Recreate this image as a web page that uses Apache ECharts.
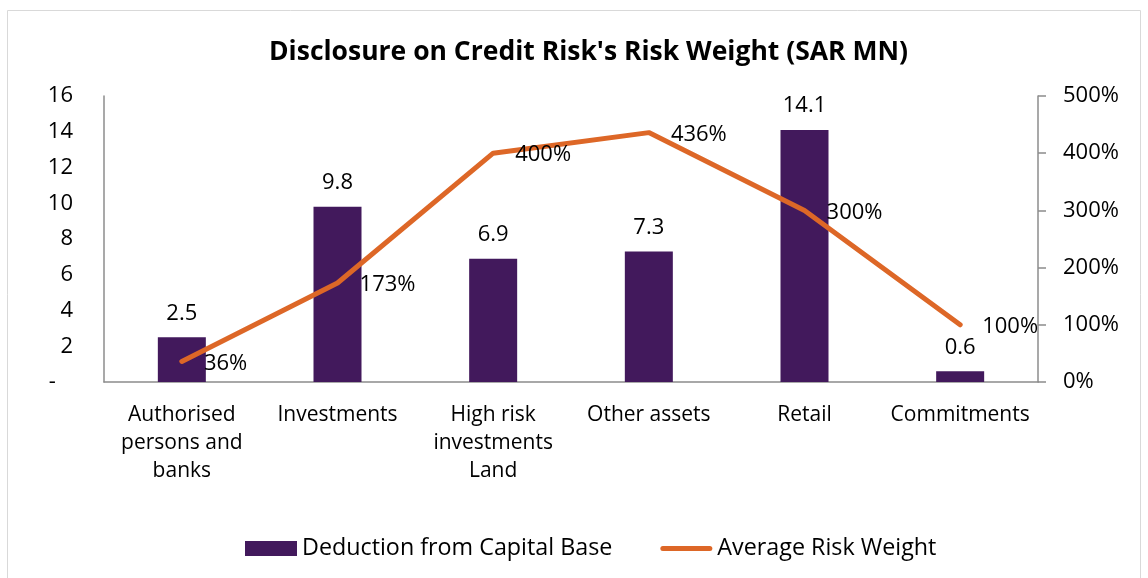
<!DOCTYPE html>
<html>
<head>
<meta charset="utf-8">
<script src="https://cdn.jsdelivr.net/npm/echarts@6/dist/echarts.min.js"></script>
<style>
  html, body { margin: 0; padding: 0; background: #fff; }
  #chart { width: 1148px; height: 578px; }
</style>
</head>
<body>
<div id="chart"></div>
<script>
// data
let categories = ['Authorised\npersons and\nbanks', 'Investments', 'High risk\ninvestments\nLand', 'Other assets', 'Retail', 'Commitments'];
let deduction = [2.5, 9.8, 6.9, 7.3, 14.1, 0.6];
let riskWeight = [36, 173, 400, 436, 300, 100];

let font = 'Open Sans';
let purple = '#42195c';
let orange = '#dd6727';
let axisGray = '#8c8c8c';

let chart = echarts.init(document.getElementById('chart'));

chart.setOption({
  animation: false,
  textStyle: { fontFamily: font, color: '#000' },
  title: {
    text: "Disclosure on Credit Risk's Risk Weight (SAR MN)",
    left: 264,
    top: 34,
    textStyle: { fontFamily: font, fontSize: 26.5, fontWeight: 'bold', color: '#000' }
  },
  graphic: [{
    type: 'rect',
    shape: { x: 7.5, y: 10.5, width: 1133, height: 600 },
    style: { fill: 'none', stroke: '#d9d9d9', lineWidth: 1 },
    silent: true
  }],
  legend: {
    bottom: 13,
    left: 240,
    itemGap: 48,
    itemWidth: 52,
    itemHeight: 15,
    textStyle: { fontFamily: font, fontSize: 23.3, color: '#000', padding: [0, 0, 0, 0] },
    data: [
      { name: 'Deduction from Capital Base', icon: 'rect' },
      { name: 'Average Risk Weight', icon: 'path://M2.5,0H49.5A2.5,2.5,0,0,1,49.5,5H2.5A2.5,2.5,0,0,1,2.5,0Z' }
    ]
  },
  grid: { left: 104, right: 110, top: 96, bottom: 196, containLabel: false },
  xAxis: {
    type: 'category',
    data: categories,
    axisLine: { lineStyle: { color: axisGray, width: 1.5 } },
    axisTick: { show: false },
    axisLabel: { fontSize: 21, color: '#000', lineHeight: 28, margin: 19, interval: 0 }
  },
  yAxis: [{
    type: 'value',
    min: 0, max: 16, interval: 2,
    splitLine: { show: false },
    axisLine: { show: true, lineStyle: { color: axisGray, width: 1.5 } },
    axisTick: { show: false },
    axisLabel: {
      fontSize: 22, color: '#000', margin: 31,
      formatter: function (v) { return v === 0 ? '-   ' : String(v); }
    }
  }, {
    type: 'value',
    min: 0, max: 500, interval: 100,
    position: 'right',
    splitLine: { show: false },
    axisLine: { show: true, lineStyle: { color: axisGray, width: 1.5 } },
    axisTick: { show: true, length: 8, lineStyle: { color: axisGray, width: 1.5 } },
    axisLabel: { fontSize: 22, color: '#000', margin: 25, formatter: '{value}%' }
  }],
  series: [{
    name: 'Deduction from Capital Base',
    type: 'bar',
    data: deduction,
    barWidth: 48,
    itemStyle: { color: purple },
    label: {
      show: true, position: 'top', distance: 13,
      fontSize: 22, color: '#000', fontFamily: font,
      formatter: function (p) { return p.value.toFixed(1); }
    }
  }, {
    name: 'Average Risk Weight',
    type: 'line',
    yAxisIndex: 1,
    data: riskWeight,
    symbol: 'circle',
    symbolSize: 0.1,
    itemStyle: { color: orange },
    lineStyle: { color: orange, width: 5, cap: 'round' },
    label: {
      show: true, position: 'right', distance: 22,
      offset: [0, 2],
      fontSize: 22, color: '#000', fontFamily: font,
      formatter: '{c}%'
    },
    z: 3
  }]
});
</script>
</body>
</html>
